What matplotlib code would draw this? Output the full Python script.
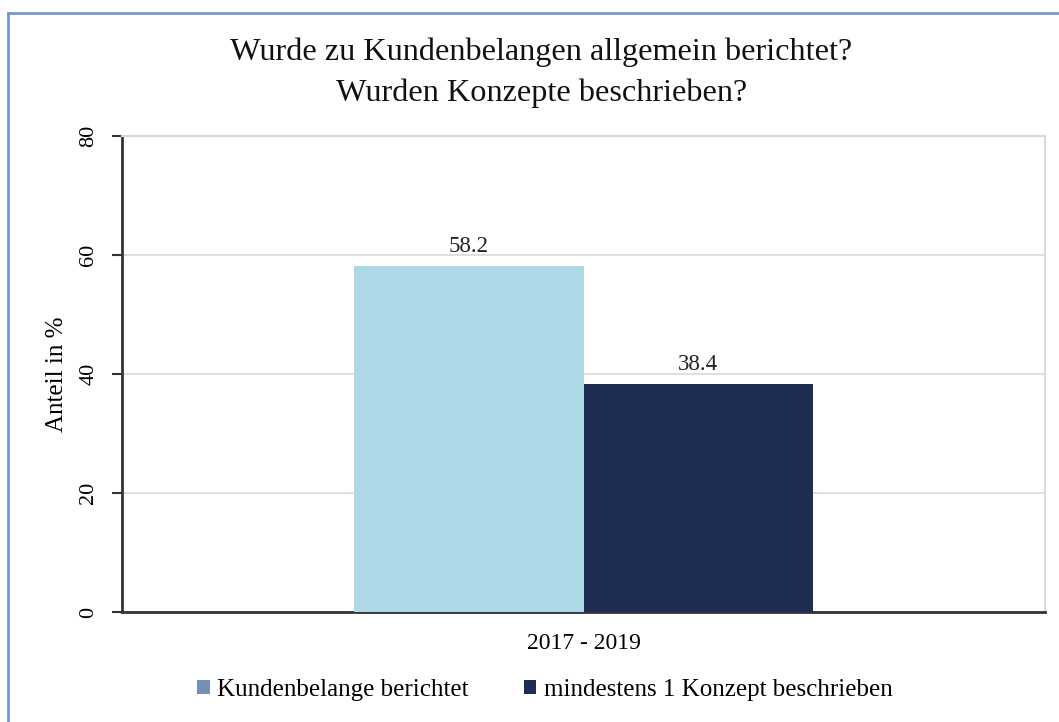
import matplotlib
matplotlib.use("Agg")
import matplotlib.pyplot as plt
from matplotlib.patches import Patch
from matplotlib.lines import Line2D
import numpy as np

plt.rcParams['font.family'] = ['Liberation Serif', 'DejaVu Serif']

categories = ["2017 - 2019"]
series_names = ["Kundenbelange berichtet", "mindestens 1 Konzept beschrieben"]
values = [[58.2], [38.4]]
bar_colors = ["#add8e6", "#1f2d55"]
legend_colors = ["#7391b3", "#1f2d55"]
yticks = [0, 20, 40, 60, 80]
title = "Wurde zu Kundenbelangen allgemein berichtet?\nWurden Konzepte beschrieben?"
ylabel = "Anteil in %"

W, H = 1059, 722
fig = plt.figure(figsize=(W / 100, H / 100), dpi=100)
ax = fig.add_axes([122 / W, 1 - 612 / H, 923 / W, 476 / H])

x = np.arange(len(categories))
bw = 0.249
for i, (name, vals) in enumerate(zip(series_names, values)):
    offs = (i - (len(series_names) - 1) / 2) * bw
    bars = ax.bar(x + offs, vals, width=bw, color=bar_colors[i], label=name, zorder=3)
    for b, v in zip(bars, vals):
        ax.annotate(f"{v:.1f}", (b.get_x() + b.get_width() / 2, v),
                    xytext=(0, 6), textcoords="offset points",
                    ha="center", va="bottom", fontsize=16.5, color="#222222")

ax.set_xlim(-0.5, 0.5)
ax.set_ylim(0, 80)
ax.set_yticks(yticks)
ax.set_yticklabels([str(t) for t in yticks], rotation=90, va="center", fontsize=16)
ax.set_xticks(x)
ax.set_xticklabels(categories, fontsize=17)
ax.tick_params(axis="x", length=0, pad=15)
ax.tick_params(axis="y", length=7, width=1.5, color="#333333", pad=10)
ax.grid(axis="y", color="#d9d9d9", linewidth=1.2, zorder=0)
for s in ["top", "right"]:
    ax.spines[s].set_color("#d9d9d9")
    ax.spines[s].set_linewidth(1.5)
for s in ["left", "bottom"]:
    ax.spines[s].set_color("#333333")
    ax.spines[s].set_linewidth(2)
ax.set_ylabel(ylabel, fontsize=18, labelpad=8)

fig.text(0.511, 1 - 73 / H, title, ha="center", va="center", fontsize=23.2,
         linespacing=1.5, color="#111111")

handles = [Patch(facecolor=c, label=n) for c, n in zip(legend_colors, series_names)]
fig.legend(handles=handles, loc="center", bbox_to_anchor=(545 / W, 1 - 690 / H),
           ncol=2, frameon=False, fontsize=18, handlelength=0.5, handleheight=0.5,
           handletextpad=0.3, columnspacing=2.2)

# outer blue border
fig.add_artist(Line2D([8 / W, 1], [1 - 13 / H, 1 - 13 / H], transform=fig.transFigure,
                      color="#7399d2", linewidth=2))
fig.add_artist(Line2D([8 / W, 8 / W], [0, 1 - 13 / H], transform=fig.transFigure,
                      color="#7399d2", linewidth=2))

fig.savefig("out.png", dpi=100)
